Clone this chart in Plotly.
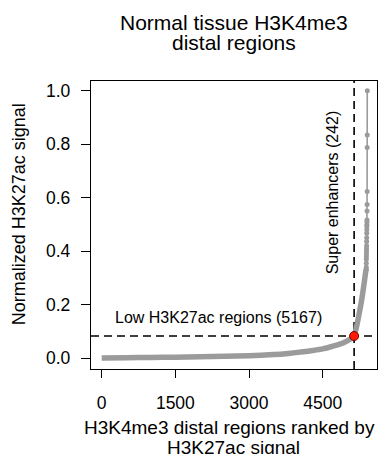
import plotly.graph_objects as go

# ---- data ----
dense_rank = [0, 500, 1000, 1500, 2000, 2500, 3000, 3500, 3800, 4100, 4300,
              4500, 4650, 4800, 4900, 5000, 5060, 5100, 5140, 5180, 5220, 5260,
              5300, 5330, 5355, 5372, 5386]
dense_signal = [0.001, 0.002, 0.003, 0.004, 0.0055, 0.007, 0.009, 0.0135,
                0.018, 0.024, 0.029, 0.035, 0.042, 0.050, 0.056, 0.065, 0.071,
                0.076, 0.083, 0.11, 0.145, 0.183, 0.225, 0.262, 0.295, 0.318, 0.333]

top_rank = [5386, 5387, 5388, 5389, 5390, 5391, 5392, 5393, 5394, 5395, 5396, 5397,
            5398, 5399, 5400, 5401, 5402, 5403, 5404, 5405, 5406, 5407, 5408]
top_signal = [0.333, 0.34, 0.355, 0.37, 0.38, 0.39, 0.40, 0.41, 0.42, 0.436, 0.45,
              0.467, 0.48, 0.492, 0.50, 0.51, 0.517, 0.55, 0.575, 0.623, 0.788,
              0.834, 1.0]

cutoff_rank = 5140
cutoff_signal = 0.083

x_ticks = [0, 1500, 3000, 4500]
y_ticks = [0.0, 0.2, 0.4, 0.6, 0.8, 1.0]

title_lines = ["Normal tissue H3K4me3", "distal regions"]
xtitle_lines = ["H3K4me3 distal regions ranked by", "H3K27ac signal"]
ytitle = "Normalized H3K27ac signal"
low_label = "Low H3K27ac regions (5167)"
super_label = "Super enhancers (242)"

FONT = "Liberation Sans, Arial, Helvetica, sans-serif"
GRAY = "#9b9b9b"

fig = go.Figure()
fig.add_trace(go.Scatter(x=dense_rank, y=dense_signal, mode="lines",
                         line=dict(color=GRAY, width=5.5, shape="spline", smoothing=0.6),
                         hoverinfo="skip", showlegend=False))
fig.add_trace(go.Scatter(x=top_rank, y=top_signal, mode="lines+markers",
                         line=dict(color=GRAY, width=1.6),
                         marker=dict(color=GRAY, size=5), showlegend=False))
fig.add_trace(go.Scatter(x=[cutoff_rank], y=[cutoff_signal], mode="markers",
                         marker=dict(color="#ff1a00", size=9,
                                     line=dict(color="#7a0000", width=1)),
                         showlegend=False))

fig.add_shape(type="line", xref="x", yref="paper", x0=cutoff_rank, x1=cutoff_rank,
              y0=0, y1=1, line=dict(color="black", width=1.6, dash="8px,5px"),
              layer="below")
fig.add_shape(type="line", xref="paper", yref="y", x0=0, x1=1,
              y0=cutoff_signal, y1=cutoff_signal,
              line=dict(color="black", width=1.6, dash="8px,5px"), layer="below")

ann = []
ann.append(dict(text=low_label, xref="x", yref="y", x=236, y=0.154,
                xanchor="left", yanchor="middle", showarrow=False,
                font=dict(size=16, color="black", family=FONT)))
ann.append(dict(text=super_label, xref="x", yref="y", x=4689, y=0.620,
                xanchor="center", yanchor="middle", showarrow=False, textangle=-90,
                font=dict(size=16, color="black", family=FONT)))
ann.append(dict(text=title_lines[0], xref="paper", yref="paper", x=0.5, y=1.2014,
                xanchor="center", yanchor="middle", showarrow=False,
                font=dict(size=21, color="black", family=FONT)))
ann.append(dict(text=title_lines[1], xref="paper", yref="paper", x=0.5, y=1.135,
                xanchor="center", yanchor="middle", showarrow=False,
                font=dict(size=21, color="black", family=FONT)))
ann.append(dict(text=xtitle_lines[0], xref="paper", yref="paper", x=0.486, y=-0.2014,
                xanchor="center", yanchor="middle", showarrow=False,
                font=dict(size=19, color="black", family=FONT)))
ann.append(dict(text=xtitle_lines[1], xref="paper", yref="paper", x=0.497, y=-0.274,
                xanchor="center", yanchor="middle", showarrow=False,
                font=dict(size=19, color="black", family=FONT)))
ann.append(dict(text=ytitle, xref="paper", yref="paper", x=-0.253, y=0.536,
                xanchor="center", yanchor="middle", showarrow=False, textangle=-90,
                font=dict(size=18, color="black", family=FONT)))

fig.update_layout(
    width=378, height=454,
    margin=dict(l=91, r=1, t=81, b=85),
    paper_bgcolor="white", plot_bgcolor="white",
    font=dict(family=FONT, color="black"),
    annotations=ann,
    xaxis=dict(range=[-218, 5606], tickvals=x_ticks, ticktext=[str(v) for v in x_ticks],
               showgrid=False, zeroline=False, showline=True, mirror=True,
               linecolor="black", linewidth=1.4, ticks="outside", ticklen=8,
               tickwidth=1.4, tickcolor="black", ticklabelstandoff=10,
               tickfont=dict(size=17.5, color="black", family=FONT)),
    yaxis=dict(range=[-0.0403, 1.0362], tickvals=y_ticks,
               ticktext=[f"{v:.1f}" for v in y_ticks],
               showgrid=False, zeroline=False, showline=True, mirror=True,
               linecolor="black", linewidth=1.4, ticks="outside", ticklen=9,
               tickwidth=1.4, tickcolor="black", ticklabelstandoff=7,
               tickfont=dict(size=17.5, color="black", family=FONT)),
)

fig.write_html("out.html", config={"displayModeBar": False},
               post_script="document.body.style.margin='0';document.body.style.overflow='hidden';")
